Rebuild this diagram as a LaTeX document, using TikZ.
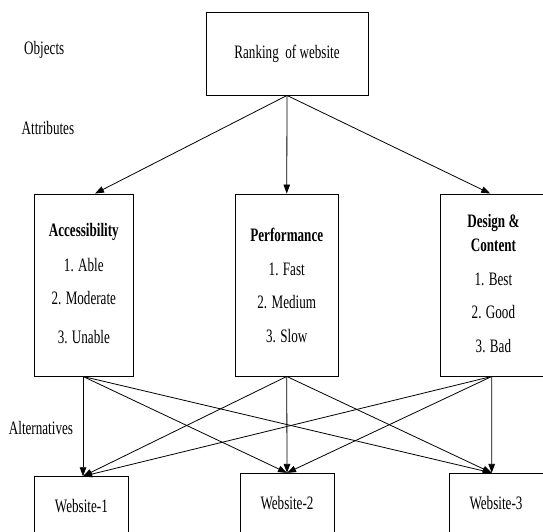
\documentclass[tikz,border=0pt]{standalone}
\usepackage{fontspec}
\setmainfont[FakeStretch=0.69]{Liberation Serif}
\usetikzlibrary{arrows.meta}
\begin{document}
\begin{tikzpicture}[x=1pt,y=-1pt,
  box/.style={draw, line width=0.9pt, inner sep=0pt},
  lbl/.style={inner sep=0pt, font=\fontsize{19}{21}\selectfont},
  blbl/.style={inner sep=0pt, font=\fontsize{19}{21}\selectfont\bfseries},
  arr/.style={line width=0.8pt, -{Triangle[length=9pt,width=6.5pt]}}]
\clip (0,0) rectangle (543,531);
\fill[white] (0,0) rectangle (543,531);
% boxes
\node[box, minimum width=162pt, minimum height=83pt, lbl] (rank) at (287,53.5) {Ranking\ \ of website};
\node[box, minimum width=98.4pt, minimum height=182pt] (acc) at (83.8,285) {};
\node[box, minimum width=102.5pt, minimum height=182pt] (perf) at (286.75,285) {};
\node[box, minimum width=105.5pt, minimum height=182pt] (des) at (493.25,285) {};
\node[box, minimum width=94.2pt, minimum height=100pt] (w1) at (81.7,526.7) {};
\node[box, minimum width=94pt, minimum height=100pt] (w2) at (287,523.3) {};
\node[box, minimum width=94pt, minimum height=100pt] (w3) at (496.4,523.3) {};
% side labels
\node[lbl, anchor=west] (lobj) at (24,50) {Objects};
\node[lbl, anchor=west] (latt) at (21.5,128) {Attributes};
\node[lbl, anchor=west] (lalt) at (8.7,428) {Alternatives};
% attribute texts
\node[blbl] (acct) at (83.8,231.7) {Accessibility};
\node[lbl] (acc1) at (83.8,265) {1. Able};
\node[lbl] (acc2) at (83.8,298) {2. Moderate};
\node[lbl] (acc3) at (83.8,336.7) {3. Unable};
\node[blbl] (perft) at (286.75,235) {Performance};
\node[lbl] (perf1) at (286.75,269) {1. Fast};
\node[lbl] (perf2) at (286.75,302) {2. Medium};
\node[lbl] (perf3) at (286.75,335.7) {3. Slow};
\node[blbl] (dest1) at (493.4,223) {Design \&};
\node[blbl] (dest2) at (493.4,245.7) {Content};
\node[lbl] (des1) at (493.4,279) {1. Best};
\node[lbl] (des2) at (493.4,312) {2. Good};
\node[lbl] (des3) at (493.4,345.7) {3. Bad};
% website texts
\node[lbl] (w1t) at (81.4,506) {Website-1};
\node[lbl] (w2t) at (287,502.7) {Website-2};
\node[lbl] (w3t) at (496,502.7) {Website-3};
% connection points
\coordinate (accin) at ([xshift=11.2pt]acc.north);
\coordinate (perfin) at (perf.north);
\coordinate (desin) at ([xshift=-3pt]des.north);
\coordinate (accout) at ([xshift=-0.8pt]acc.south);
\coordinate (perfout) at (perf.south);
\coordinate (desout) at ([xshift=-1.5pt]des.south);
\coordinate (w1in) at ([xshift=1.3pt]w1.north);
\coordinate (w2in) at (w2.north);
\coordinate (w3in) at ([xshift=-4.7pt]w3.north);
% arrows
\draw[arr] (rank.south) -- (accin);
\draw[arr] (rank.south) -- (perfin);
\draw[arr] (rank.south) -- (desin);
\foreach \s in {accout,perfout,desout}{
  \foreach \t in {w1in,w2in,w3in}{
    \draw[arr] (\s) -- (\t);
  }
}
\end{tikzpicture}
\end{document}
